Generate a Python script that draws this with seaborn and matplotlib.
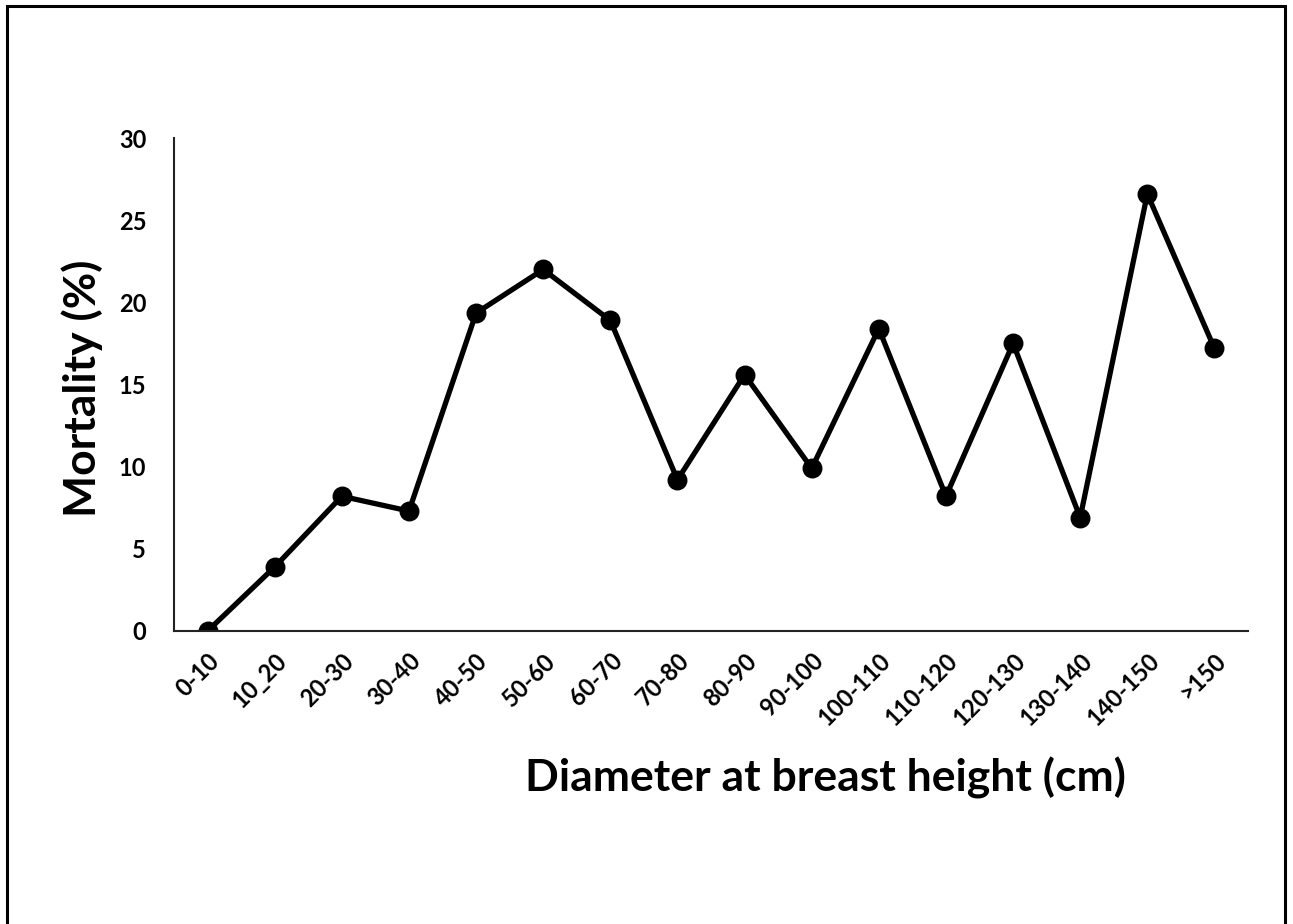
import matplotlib
matplotlib.use("Agg")
import matplotlib.pyplot as plt
import seaborn as sns
import pandas as pd

# Diameter classes and mortality values
classes = ["0-10", "10_20", "20-30", "30-40", "40-50", "50-60", "60-70", "70-80",
           "80-90", "90-100", "100-110", "110-120", "120-130", "130-140", "140-150", ">150"]
mortality = [0, 3.9, 8.2, 7.3, 19.35, 22.0, 18.9, 9.2,
             15.6, 9.9, 18.4, 8.2, 17.5, 6.9, 26.6, 17.2]
yticks = [0, 5, 10, 15, 20, 25, 30]

df = pd.DataFrame({"DBH": classes, "Mortality": mortality})

sns.set_theme(style="white", rc={"text.color": "black", "axes.labelcolor": "black",
                                 "xtick.color": "black", "ytick.color": "black"})
plt.rcParams["font.family"] = ["Lato", "DejaVu Sans"]

fig = plt.figure(figsize=(12.93, 9.24), dpi=100)
ax = fig.add_axes([0.1346, 0.3171, 0.8306, 0.5335])

sns.pointplot(data=df, x="DBH", y="Mortality", color="black", ax=ax,
              markers="o", markersize=11.5, linewidth=3.8)

ax.set_xlim(-0.5, 15.5)
ax.set_ylim(0, 30)
ax.set_yticks(yticks)
ax.set_yticklabels([str(t) for t in yticks], fontsize=17, fontweight="bold")
ax.set_xticks(range(len(classes)))
ax.set_xticklabels(classes, fontsize=17, fontweight="bold", rotation=45,
                   ha="right", rotation_mode="anchor")
ax.tick_params(axis="both", length=0)
ax.tick_params(axis="y", pad=20)
ax.tick_params(axis="x", pad=13)

for side in ["top", "right"]:
    ax.spines[side].set_visible(False)
for side in ["left", "bottom"]:
    ax.spines[side].set_color("#222222")
    ax.spines[side].set_linewidth(1.5)

ax.set_xlabel("Diameter at breast height (cm)", fontsize=32, fontweight="bold")
ax.set_ylabel("Mortality (%)", fontsize=32, fontweight="bold")
ax.xaxis.set_label_coords(0.607, -0.255)
ax.yaxis.set_label_coords(-0.066, 0.493)

# outer frame around the figure
frame = plt.Rectangle((7 / 1293, -0.01), (1285 - 7) / 1293, 1 - 6 / 924 + 0.01,
                      transform=fig.transFigure, fill=False, edgecolor="black",
                      linewidth=2.2)
fig.patches.append(frame)

fig.savefig("out.png", dpi=100)
